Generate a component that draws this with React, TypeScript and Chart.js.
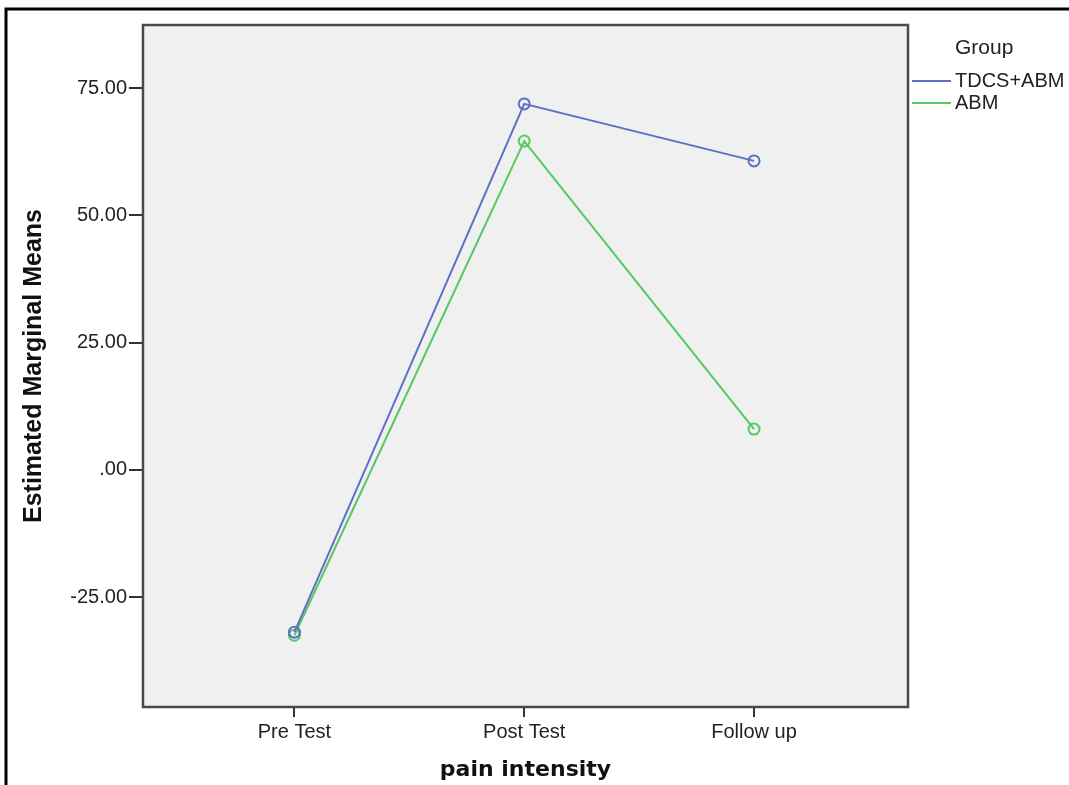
import React, { useEffect, useRef } from "react";
import { Chart, registerables } from "chart.js";

Chart.register(...registerables);

const categories = ["Pre Test", "Post Test", "Follow up"];
const tdcsAbm = [-31.9, 71.9, 60.7];
const abm = [-32.5, 64.6, 8.0];
const yTicks = [-25, 0, 25, 50, 75];
const seriesNames = ["TDCS+ABM", "ABM"];
const seriesColors = ["#5c70c8", "#55c962"];

const FONT = "'Liberation Sans', Arial, sans-serif";

export default function App() {
  const ref = useRef<HTMLCanvasElement | null>(null);

  useEffect(() => {
    if (!ref.current) return;
    const framePlugin = {
      id: "framePlugin",
      beforeDraw(chart: any) {
        const { ctx, chartArea } = chart;
        ctx.save();
        ctx.fillStyle = "#ffffff";
        ctx.fillRect(0, 0, chart.width, chart.height);
        ctx.fillStyle = "#f0f0f0";
        ctx.fillRect(chartArea.left, chartArea.top, chartArea.right - chartArea.left, chartArea.bottom - chartArea.top);
        ctx.restore();
      },
      afterDraw(chart: any) {
        const { ctx, chartArea } = chart;
        ctx.save();
        ctx.strokeStyle = "#4a4a4a";
        ctx.lineWidth = 2.5;
        ctx.strokeRect(chartArea.left, chartArea.top, chartArea.right - chartArea.left, chartArea.bottom - chartArea.top);
        ctx.strokeStyle = "#000000";
        ctx.lineWidth = 3;
        ctx.beginPath();
        ctx.moveTo(6, chart.height);
        ctx.lineTo(6, 9);
        ctx.lineTo(chart.width, 9);
        ctx.stroke();
        ctx.fillStyle = "#222222";
        ctx.textBaseline = "middle";
        ctx.textAlign = "left";
        ctx.font = `21px ${FONT}`;
        ctx.fillText("Group", 955, 48);
        ctx.font = `20px ${FONT}`;
        seriesNames.forEach((name, i) => {
          const y = 81 + i * 22;
          ctx.strokeStyle = seriesColors[i];
          ctx.lineWidth = 2;
          ctx.beginPath();
          ctx.moveTo(912, y);
          ctx.lineTo(951, y);
          ctx.stroke();
          ctx.fillText(name, 955, y);
        });
        ctx.restore();
      },
    };

    const makeData = (vals: number[]) => vals.map((v, i) => ({ x: i, y: v }));
    const makeSet = (i: number, vals: number[]) => ({
      label: seriesNames[i],
      data: makeData(vals),
      borderColor: seriesColors[i],
      borderWidth: 2,
      pointStyle: "circle",
      pointRadius: 5.5,
      pointBorderWidth: 2,
      pointBackgroundColor: "rgba(0,0,0,0)",
      pointBorderColor: seriesColors[i],
      tension: 0,
    });

    const chart = new Chart(ref.current, {
      type: "line",
      data: {
        datasets: [makeSet(0, tdcsAbm), makeSet(1, abm)],
      },
      options: {
        animation: false,
        responsive: false,
        layout: { padding: { left: 0, top: 25, right: 161, bottom: 0 } },
        plugins: { legend: { display: false }, tooltip: { enabled: false } },
        scales: {
          x: {
            type: "linear",
            min: -0.659,
            max: 2.67,
            afterBuildTicks: (axis: any) => {
              axis.ticks = categories.map((_, i) => ({ value: i }));
            },
            afterFit: (axis: any) => {
              axis.height = 78;
            },
            border: { display: false },
            grid: { drawOnChartArea: false, drawTicks: true, tickLength: 10, color: "#333333", lineWidth: 2 },
            ticks: {
              autoSkip: false,
              maxRotation: 0,
              padding: 3,
              color: "#222222",
              font: { family: FONT, size: 20 },
              callback: (v: any) => categories[Math.round(Number(v))] ?? "",
            },
            title: {
              display: true,
              text: "pain intensity",
              color: "#111111",
              font: { family: "'DejaVu Sans', Verdana, sans-serif", size: 22, weight: "bold" },
              padding: { top: 0, bottom: 2 },
            },
          },
          y: {
            type: "linear",
            min: -46.6,
            max: 87.4,
            afterBuildTicks: (axis: any) => {
              axis.ticks = yTicks.map((v) => ({ value: v }));
            },
            afterFit: (axis: any) => {
              axis.width = 143;
            },
            border: { display: false },
            grid: { drawOnChartArea: false, drawTicks: true, tickLength: 14, color: "#333333", lineWidth: 2 },
            ticks: {
              padding: 2,
              color: "#222222",
              font: { family: FONT, size: 20 },
              callback: (v: any) => (Number(v) === 0 ? ".00" : Number(v).toFixed(2)),
            },
            title: {
              display: true,
              text: "Estimated Marginal Means",
              color: "#111111",
              font: { family: FONT, size: 25, weight: "bold" },
              padding: { top: 19, bottom: 0 },
            },
          },
        },
      },
      plugins: [framePlugin],
    } as any);

    return () => chart.destroy();
  }, []);

  return (
    <div style={{ position: "fixed", left: 0, top: 0, width: 1069, height: 785, background: "#fff" }}>
      <canvas ref={ref} width={1069} height={785} style={{ display: "block" }} />
    </div>
  );
}
